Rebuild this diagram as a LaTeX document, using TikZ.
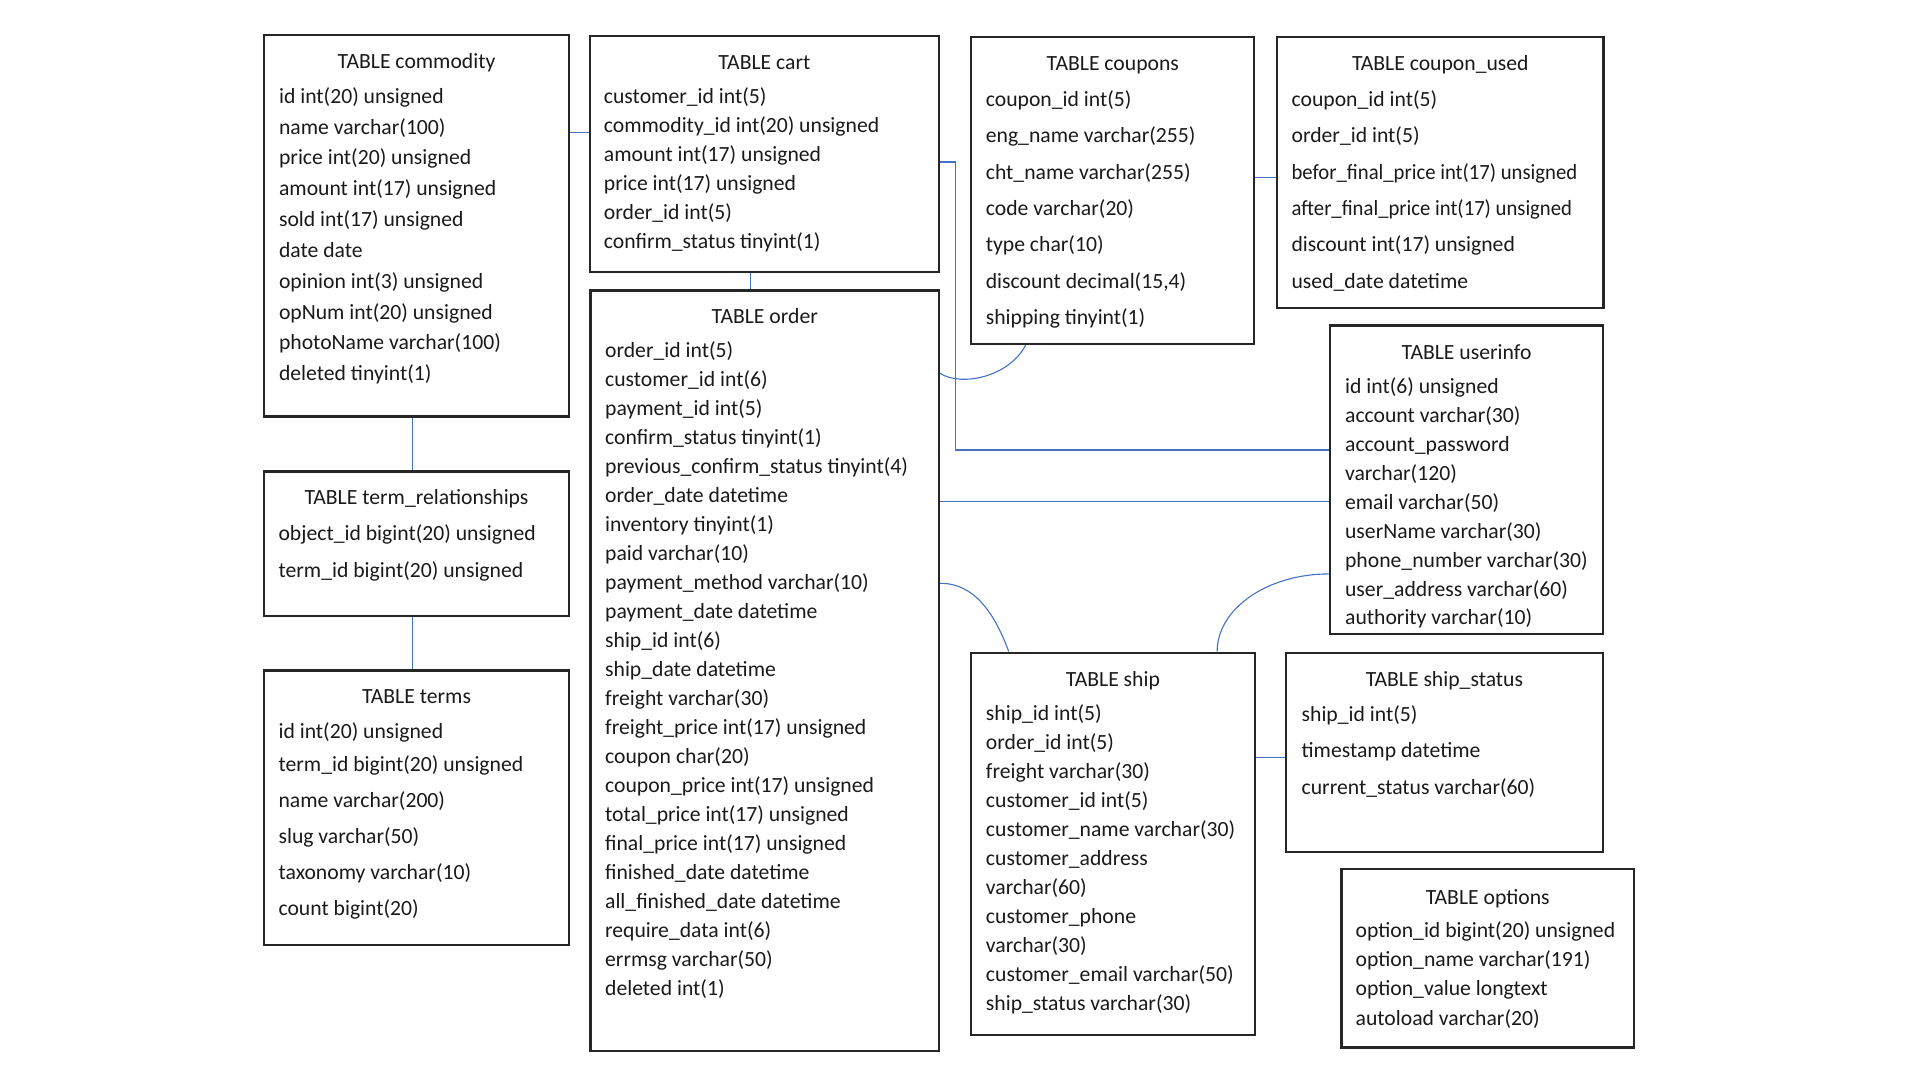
\documentclass[tikz,border=0pt]{standalone}
\usepackage{fontspec}
\usepackage{graphicx}
\setmainfont{Carlito}
\usetikzlibrary{fit}
\definecolor{boxline}{HTML}{262626}
\definecolor{ink}{HTML}{1A1A1A}
\definecolor{linkblue}{HTML}{4472C4}
\newcommand\rowfont{\fontsize{17.7}{20}\selectfont}
% rows of a table: name, text x, first row y, row pitch, list of fields
\newcommand\tablerows[5]{%
  \foreach \txt [count=\k] in {#5}{%
    \node[row] (#1-r\k) at (#2,{#3+(\k-1)*#4+5.5}) {\txt};
  }}
\newcommand\narrowrow[1]{\scalebox{0.955}[1]{#1}}
\tikzset{
  tbox/.style={draw=boxline, line width=1.8pt, inner sep=0pt, fill=white},
  row/.style={anchor=base west, inner sep=0pt, text=ink, font=\rowfont},
  ttl/.style={anchor=base, inner sep=0pt, text=ink, font=\rowfont},
  link/.style={draw=linkblue, line width=0.9pt},
}
\begin{document}
\begin{tikzpicture}[x=1pt,y=-1pt]
\useasboundingbox[fill=white] (0,0) rectangle (1568,882);

% ---------- table frames ----------
\node[tbox, fit={(215.7,28.5) (464.7,340.2)}] (commodity) {};
\node[tbox, fit={(481.8,29.4) (766.6,222.4)}] (cart) {};
\node[tbox, fit={(482.3,237.3) (766.8,858.4)}] (order) {};
\node[tbox, fit={(793.2,29.9) (1024.4,280.9)}] (coupons) {};
\node[tbox, fit={(1043,29.9) (1309.5,251.5)}] (couponused) {};
\node[tbox, fit={(1086.2,265.9) (1309.2,517.7)}] (userinfo) {};
\node[tbox, fit={(215.6,385) (464.7,502.9)}] (termrel) {};
\node[tbox, fit={(215.6,547.5) (464.7,771.5)}] (terms) {};
\node[tbox, fit={(793,533) (1024.8,845.3)}] (ship) {};
\node[tbox, fit={(1050,533) (1309.2,695.9)}] (shipstatus) {};
\node[tbox, fit={(1095.6,710) (1334.4,855.4)}] (options) {};

% ---------- relations ----------
\draw[link] (commodity.east |- 0,108) -- (cart.west |- 0,108);
\draw[link] (cart.south -| 612.7,0) -- (order.north -| 612.7,0);
\draw[link] (commodity.south -| 336.6,0) -- (termrel.north -| 336.6,0);
\draw[link] (termrel.south -| 336.6,0) -- (terms.north -| 336.6,0);
\draw[link] (coupons.east |- 0,144.8) -- (couponused.west |- 0,144.8);
\draw[link] (cart.east |- 0,132.3) -- (780,132.3) -- (780,367.5) -- (userinfo.west |- 0,367.5);
\draw[link] (order.east |- 0,409.2) -- (userinfo.west |- 0,409.2);
\draw[link] (order.east |- 0,304.9) .. controls (785,316) and (824,308) .. (coupons.south -| 837.6,0);
\draw[link] (order.east |- 0,476.4) .. controls (795,476) and (812,500) .. (ship.north -| 823.8,0);
\draw[link] (userinfo.west |- 0,468.7) .. controls (1035,468.7) and (994,497.1) .. (ship.north -| 994,0);
\draw[link] (ship.east |- 0,618.5) -- (shipstatus.west |- 0,618.5);

% ---------- titles ----------
\node[ttl] (commodity-title) at (commodity.center |- 0,55.8) {TABLE commodity};
\node[ttl] (cart-title) at (cart.center |- 0,56.6) {TABLE cart};
\node[ttl] (order-title) at (order.center |- 0,264.5) {TABLE order};
\node[ttl] (coupons-title) at (coupons.center |- 0,57.2) {TABLE coupons};
\node[ttl] (couponused-title) at (couponused.center |- 0,57.2) {TABLE coupon\_used};
\node[ttl] (userinfo-title) at (userinfo.center |- 0,294) {TABLE userinfo};
\node[ttl] (termrel-title) at (termrel.center |- 0,411.8) {TABLE term\_relationships};
\node[ttl] (terms-title) at (terms.center |- 0,574.3) {TABLE terms};
\node[ttl] (ship-title) at (ship.center |- 0,560.3) {TABLE ship};
\node[ttl] (shipstatus-title) at (shipstatus.center |- 0,560.3) {TABLE ship\_status};
\node[ttl] (options-title) at (options.center |- 0,738.5) {TABLE options};

% ---------- fields ----------
\tablerows{commodity}{227.7}{78.9}{25.17}{id int(20) unsigned, name varchar(100),
  price int(20) unsigned, amount int(17) unsigned, sold int(17) unsigned, date date,
  opinion int(3) unsigned, opNum int(20) unsigned, photoName varchar(100), deleted tinyint(1)}
\tablerows{cart}{493}{78.9}{23.68}{customer\_id int(5), commodity\_id int(20) unsigned,
  amount int(17) unsigned, price int(17) unsigned, order\_id int(5), confirm\_status tinyint(1)}
\tablerows{order}{494}{286.7}{23.69}{order\_id int(5), customer\_id int(6), payment\_id int(5),
  confirm\_status tinyint(1), previous\_confirm\_status tinyint(4), order\_date datetime,
  inventory tinyint(1), paid varchar(10), payment\_method varchar(10), payment\_date datetime,
  ship\_id int(6), ship\_date datetime, freight varchar(30), freight\_price int(17) unsigned,
  coupon char(20), coupon\_price int(17) unsigned, total\_price int(17) unsigned,
  final\_price int(17) unsigned, finished\_date datetime, all\_finished\_date datetime,
  require\_data int(6), errmsg varchar(50), deleted int(1)}
\tablerows{coupons}{804.9}{81.6}{29.63}{coupon\_id int(5), eng\_name varchar(255),
  cht\_name varchar(255), code varchar(20), type char(10), {discount decimal(15,4)},
  shipping tinyint(1)}
\tablerows{couponused}{1054.6}{81.6}{29.63}{coupon\_id int(5), order\_id int(5),
  \narrowrow{befor\_final\_price int(17) unsigned}, \narrowrow{after\_final\_price int(17) unsigned},
  discount int(17) unsigned, used\_date datetime}
\tablerows{userinfo}{1098.3}{315.7}{23.65}{id int(6) unsigned, account varchar(30),
  account\_password, varchar(120), email varchar(50), userName varchar(30),
  phone\_number varchar(30), user\_address varchar(60), authority varchar(10)}
\tablerows{termrel}{227.3}{436.1}{29.7}{object\_id bigint(20) unsigned, term\_id bigint(20) unsigned}
\tablerows{terms-a}{227.3}{598}{0}{id int(20) unsigned}
\tablerows{terms-b}{227.3}{624.2}{29.53}{term\_id bigint(20) unsigned, name varchar(200),
  slug varchar(50), taxonomy varchar(10), count bigint(20)}
\tablerows{ship}{805}{582.6}{23.68}{ship\_id int(5), order\_id int(5), freight varchar(30),
  customer\_id int(5), customer\_name varchar(30), customer\_address, varchar(60),
  customer\_phone, varchar(30), customer\_email varchar(50), ship\_status varchar(30)}
\tablerows{shipstatus}{1062.8}{583.5}{30}{ship\_id int(5), timestamp datetime, current\_status varchar(60)}
\tablerows{options}{1106.9}{760.1}{23.87}{option\_id bigint(20) unsigned, option\_name varchar(191),
  option\_value longtext, autoload varchar(20)}
\end{tikzpicture}
\end{document}
